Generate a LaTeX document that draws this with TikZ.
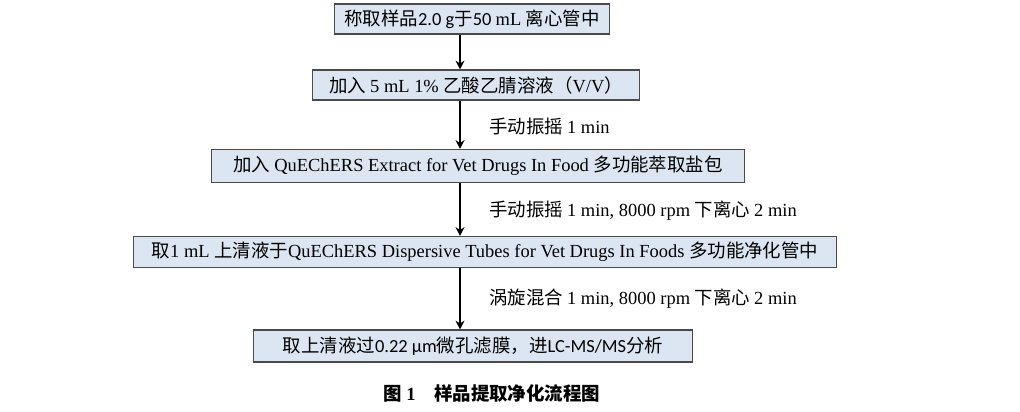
\documentclass[tikz,border=0pt]{standalone}
\usepackage{fontspec}
\setmainfont{Liberation Serif}
\newfontfamily\cjk{Noto Sans CJK SC}
\newfontfamily\calib{Carlito}
\usetikzlibrary{arrows.meta}
\definecolor{boxfill}{HTML}{DCE6F2}
\definecolor{boxline}{HTML}{4A4A4A}
\tikzset{
  stepbox/.style={draw=boxline, fill=boxfill, line width=.6pt, inner sep=0pt, minimum height=0.6cm, font=\fontsize{10.5}{12}\selectfont},
  flow/.style={-{Stealth[length=5pt,width=5pt]}, line width=1.2pt},
  note/.style={anchor=west, font=\fontsize{10.5}{12}\selectfont}
}
\begin{document}
\begin{tikzpicture}[x=0.02cm,y=-0.02cm]
\useasboundingbox (0,0) rectangle (1020,412);
\node[stepbox, minimum width=5.5cm] (s1) at (472,19) {\cjk 称取样品\calib 2.0 g\cjk 于\calib 50 \rmfamily mL \cjk 离心管中};
\node[stepbox, minimum width=6.54cm] (s2) at (476,85) {\cjk 加入 \rmfamily 5 mL 1\% \cjk 乙酸乙腈溶液（\rmfamily V/V\cjk ）};
\node[stepbox, minimum width=10.68cm, minimum height=0.66cm] (s3) at (478,166) {\cjk 加入 \rmfamily QuEChERS Extract for Vet Drugs In Food \cjk 多功能萃取盐包};
\node[stepbox, minimum width=14.08cm, minimum height=0.62cm] (s4) at (485,252) {\cjk 取\rmfamily 1 mL \cjk 上清液于\rmfamily QuEChERS Dispersive Tubes for Vet Drugs In Foods \cjk 多功能净化管中};
\node[stepbox, minimum width=8.8cm, minimum height=0.64cm] (s5) at (473,346) {\cjk 取上清液过\calib 0.22 µm\cjk 微孔滤膜，进\calib LC-MS/MS\cjk 分析};
\draw[flow] (s1.south -| 460,0) -- (s2.north -| 460,0);
\draw[flow] (s2.south -| 460,0) -- (s3.north -| 460,0);
\draw[flow] (s3.south -| 460,0) -- (s4.north -| 460,0);
\draw[flow] (s4.south -| 460,0) -- (s5.north -| 460,0);
\node[note] (n1) at (483,127) {\cjk 手动振摇 \rmfamily 1 min};
\node[note] (n2) at (483,211) {\cjk 手动振摇 \rmfamily 1 min, 8000 rpm \cjk 下离心 \rmfamily 2 min};
\node[note] (n3) at (483,299) {\cjk 涡旋混合 \rmfamily 1 min, 8000 rpm \cjk 下离心 \rmfamily 2 min};
\node[font=\fontsize{10.5}{12}\selectfont\bfseries] (cap) at (492,393) {\cjk 图 \rmfamily 1\quad \cjk 样品提取净化流程图};
\end{tikzpicture}
\end{document}
